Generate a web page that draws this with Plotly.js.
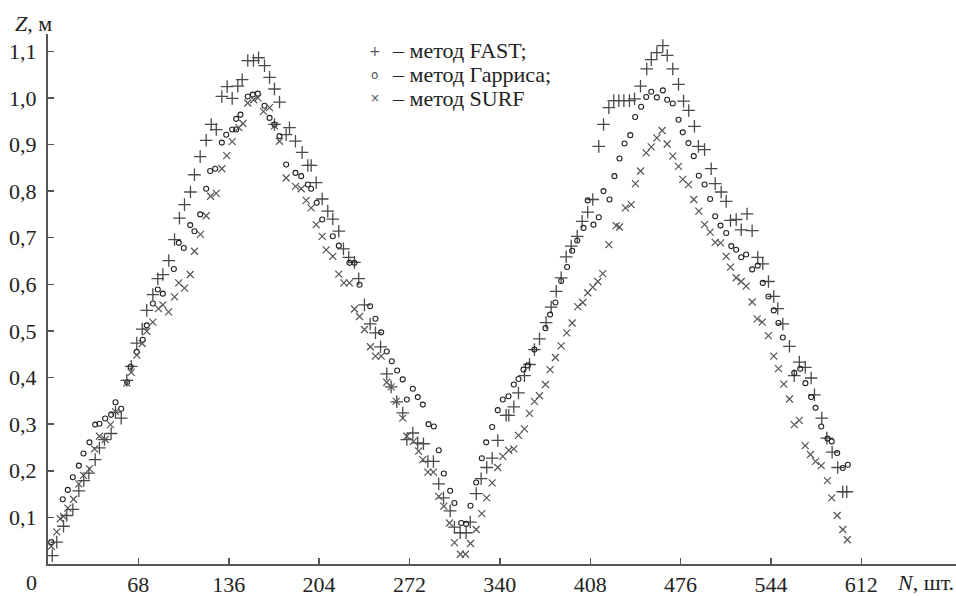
<!DOCTYPE html>
<html>
<head>
<meta charset="utf-8">
<script src="https://cdn.plot.ly/plotly-3.0.1.min.js"></script>
<style>html,body{margin:0;padding:0;background:#fff;}#chart{width:956px;height:596px;}</style>
</head>
<body>
<div id="chart"></div>
<script>
// ---- data ----
const fastN = [3.2,6.6,11.7,14.1,18.7,23.2,26.9,30.7,35.5,38.7,42.5,47.5,50.8,55.1,59.3,62.6,66.8,70.9,74.3,78.9,82.6,86.4,90.9,95.2,98.9,102.7,107.2,110.2,114.5,119.0,122.8,126.6,130.8,134.8,138.6,142.8,146.1,150.3,154.6,158.4,162.9,166.7,170.4,174.2,170.4,179.2,181.7,186.2,191.2,195.5,198.0,201.8,206.3,210.5,214.3,218.8,222.3,226.3,230.6,233.8,238.1,242.4,246.4,250.2,254.9,258.2,262.4,266.9,270.0,274.5,278.2,282.5,285.8,290.0,294.0,297.6,302.6,305.8,310.1,314.6,317.7,322.2,325.9,330.1,334.2,338.4,344.7,346.7,350.5,354.0,358.5,362.3,366.0,369.8,374.8,378.6,382.4,386.1,389.9,393.7,398.2,401.9,406.1,409.9,414.4,418.0,422.0,425.7,429.5,433.3,437.5,441.3,445.8,450.5,453.9,458.1,462.6,465.9,470.1,474.4,478.2,482.1,486.4,489.4,494.0,499.0,502.0,506.5,510.3,513.5,517.8,521.6,526.0,529.8,534.0,537.8,542.1,546.1,549.1,552.9,557.9,561.5,565.3,569.8,574.2,576.7,582.2,586.0,590.0,594.2,598.0,601.0];
const fastZ = [0.018,0.047,0.081,0.104,0.117,0.157,0.179,0.195,0.224,0.249,0.267,0.280,0.326,0.313,0.394,0.424,0.474,0.504,0.544,0.578,0.612,0.621,0.651,0.696,0.742,0.771,0.798,0.835,0.874,0.909,0.943,0.932,1.003,1.024,0.999,1.025,1.039,1.080,1.080,1.086,1.069,1.044,1.019,0.991,0.943,0.921,0.936,0.907,0.883,0.855,0.855,0.818,0.783,0.757,0.740,0.714,0.676,0.658,0.647,0.612,0.556,0.515,0.496,0.466,0.408,0.380,0.348,0.324,0.267,0.281,0.260,0.258,0.220,0.220,0.172,0.142,0.114,0.079,0.067,0.067,0.090,0.151,0.183,0.207,0.227,0.265,0.319,0.319,0.337,0.367,0.404,0.428,0.460,0.483,0.518,0.551,0.585,0.614,0.659,0.682,0.703,0.735,0.755,0.782,0.896,0.943,0.979,0.994,0.994,0.994,0.994,0.998,1.025,1.062,1.082,1.097,1.112,1.091,1.062,1.029,0.993,0.973,0.939,0.896,0.889,0.848,0.816,0.798,0.778,0.737,0.739,0.717,0.751,0.715,0.658,0.644,0.606,0.574,0.548,0.515,0.467,0.404,0.433,0.422,0.399,0.363,0.313,0.270,0.240,0.207,0.155,0.155];

const harrisN = [2.4,11.1,14.9,18.7,23.2,26.7,31.2,35.5,38.7,43.0,47.5,50.8,55.1,59.5,62.1,66.8,71.3,74.3,78.9,82.6,86.4,94.7,98.4,102.2,107.0,110.2,114.5,119.0,122.0,125.8,130.8,134.1,138.6,141.6,141.6,144.8,150.3,154.1,157.9,162.9,166.7,170.4,174.2,179.2,186.2,190.5,195.5,198.0,202.2,206.3,214.3,218.8,226.8,230.6,234.4,242.4,246.4,250.7,254.9,258.7,262.7,266.9,270.0,274.5,278.2,282.0,286.3,290.3,294.0,297.8,302.6,305.8,310.9,314.6,317.9,322.2,326.4,329.7,334.2,338.4,342.2,346.5,350.5,354.0,357.8,361.0,366.0,374.3,377.8,381.8,386.1,390.6,394.4,398.2,402.9,406.1,410.4,414.4,418.0,422.5,426.2,430.0,433.8,438.1,441.8,446.3,450.1,453.9,458.1,462.6,465.9,470.1,474.4,477.6,481.9,485.9,489.7,494.0,498.2,502.0,506.0,510.3,514.1,517.8,521.6,525.3,529.8,534.0,537.8,542.1,546.1,549.6,552.9,561.5,566.0,569.9,574.2,577.5,581.8,586.5,589.7,593.8,598.0,601.8];
const harrisZ = [0.047,0.139,0.159,0.186,0.211,0.237,0.261,0.299,0.301,0.312,0.320,0.347,0.333,0.390,0.423,0.455,0.481,0.512,0.559,0.589,0.580,0.633,0.689,0.678,0.727,0.714,0.750,0.805,0.843,0.848,0.904,0.921,0.932,0.932,0.955,0.964,1.003,1.007,1.009,0.983,0.957,0.943,0.918,0.857,0.839,0.832,0.814,0.805,0.775,0.739,0.703,0.683,0.646,0.646,0.599,0.553,0.526,0.497,0.456,0.435,0.415,0.396,0.353,0.376,0.358,0.342,0.300,0.295,0.244,0.194,0.157,0.131,0.088,0.086,0.125,0.175,0.227,0.261,0.294,0.330,0.353,0.360,0.385,0.397,0.417,0.426,0.460,0.506,0.535,0.561,0.607,0.637,0.672,0.694,0.721,0.780,0.728,0.744,0.800,0.782,0.832,0.870,0.902,0.920,0.959,0.981,1.002,1.013,1.001,1.016,0.996,0.988,0.953,0.926,0.903,0.875,0.833,0.814,0.783,0.746,0.726,0.710,0.682,0.674,0.658,0.664,0.632,0.640,0.603,0.574,0.544,0.517,0.486,0.410,0.419,0.388,0.358,0.335,0.295,0.269,0.263,0.238,0.206,0.213];

const surfN = [2.4,6.6,9.2,11.7,14.9,19.2,23.2,26.7,31.2,35.0,38.7,43.0,47.0,50.8,59.3,62.6,66.8,70.9,74.3,78.9,83.1,86.4,90.7,95.2,98.4,102.7,107.0,110.2,114.7,119.0,122.3,126.6,130.8,134.5,138.6,143.6,146.6,150.3,154.8,157.9,162.1,166.7,170.4,174.2,179.2,186.2,190.5,194.3,198.0,201.8,206.3,209.3,214.3,218.8,222.6,226.8,230.6,234.4,238.1,242.6,246.4,250.7,254.9,258.2,262.0,266.9,270.0,275.0,278.9,282.0,285.8,290.0,294.0,297.8,302.1,305.8,310.3,314.1,317.9,322.2,326.4,330.1,334.2,338.4,342.2,346.7,350.5,354.0,358.5,362.3,366.0,369.8,374.3,377.8,381.8,386.1,390.3,394.4,398.6,402.4,406.1,409.9,413.7,417.4,422.0,427.5,430.0,434.5,438.8,442.0,445.8,450.1,453.9,458.1,462.1,465.9,470.1,474.4,477.6,481.9,485.9,489.7,494.0,498.2,502.0,506.0,510.3,513.5,517.8,521.6,525.3,529.8,533.6,537.4,542.1,546.1,549.6,553.6,557.9,561.5,565.3,569.7,573.7,577.5,581.8,586.5,589.7,593.8,598.0,601.4];
const surfZ = [0.038,0.069,0.097,0.102,0.120,0.139,0.172,0.190,0.204,0.247,0.274,0.267,0.299,0.327,0.388,0.411,0.448,0.473,0.499,0.519,0.548,0.556,0.541,0.573,0.603,0.592,0.621,0.671,0.707,0.747,0.789,0.795,0.848,0.876,0.906,0.936,0.945,0.989,0.996,1.000,0.971,0.979,0.940,0.907,0.828,0.810,0.805,0.780,0.764,0.728,0.703,0.674,0.660,0.622,0.603,0.603,0.547,0.531,0.503,0.466,0.446,0.446,0.390,0.380,0.349,0.313,0.274,0.263,0.242,0.224,0.197,0.197,0.145,0.124,0.088,0.046,0.021,0.021,0.044,0.074,0.108,0.142,0.174,0.207,0.231,0.244,0.247,0.276,0.290,0.323,0.349,0.361,0.385,0.417,0.443,0.468,0.496,0.517,0.552,0.561,0.582,0.594,0.606,0.623,0.685,0.726,0.723,0.764,0.771,0.816,0.843,0.882,0.895,0.914,0.930,0.901,0.875,0.853,0.825,0.814,0.782,0.757,0.728,0.712,0.690,0.689,0.660,0.637,0.614,0.606,0.596,0.562,0.526,0.519,0.490,0.446,0.419,0.386,0.354,0.299,0.308,0.254,0.235,0.220,0.211,0.179,0.142,0.104,0.074,0.052];

const seriesNames = ['– метод FAST;', '– метод Гарриса;', '– метод SURF'];
const legendSymbols = ['+', 'o', '×'];
const xTicks = [68,136,204,272,340,408,476,544,612];
const yTicks = [0.1,0.2,0.3,0.4,0.5,0.6,0.7,0.8,0.9,1.0,1.1];

const FONT = 'Liberation Serif, Times New Roman, serif';

const traces = [
  {x: fastN, y: fastZ, name: seriesNames[0], mode: 'markers', type: 'scatter',
   marker: {symbol: 'cross-thin-open', size: 9, color: '#4a4a4a', line: {width: 1.3, color: '#4a4a4a'}}},
  {x: harrisN, y: harrisZ, name: seriesNames[1], mode: 'markers', type: 'scatter',
   marker: {symbol: 'circle-open', size: 5, color: '#222', line: {width: 1.1, color: '#222'}}},
  {x: surfN, y: surfZ, name: seriesNames[2], mode: 'markers', type: 'scatter',
   marker: {symbol: 'x-thin-open', size: 7, color: '#555', line: {width: 1.2, color: '#555'}}}
];

// legend drawn as text (tight line spacing as in the original)
const legendRowsY = [0.968, 0.923, 0.879];
const legendAnn = [];
seriesNames.forEach((nm, i) => {
  legendAnn.push({xref: 'paper', yref: 'paper', x: 0.3601, y: legendRowsY[i], text: legendSymbols[i],
    showarrow: false, xanchor: 'center', yanchor: 'middle',
    font: {family: 'DejaVu Sans, sans-serif', size: i === 0 ? 14 : 12, color: '#555'}});
  legendAnn.push({xref: 'paper', yref: 'paper', x: 0.3767, y: legendRowsY[i], text: nm,
    showarrow: false, xanchor: 'left', yanchor: 'middle',
    font: {family: FONT, size: 22, color: '#222'}});
});

const layout = {
  width: 956, height: 596,
  margin: {l: 48, r: 0, t: 34, b: 32, pad: 0},
  paper_bgcolor: '#fff', plot_bgcolor: '#fff',
  separators: ', ',
  font: {family: FONT, size: 22, color: '#222'},
  showlegend: false,
  xaxis: {range: [0, 683.2], tickvals: xTicks, ticktext: xTicks.map(String), ticks: 'inside', ticklen: 6,
          tickwidth: 1.5, tickcolor: '#555', showline: true, linecolor: '#555', linewidth: 2,
          showgrid: false, zeroline: false, automargin: false,
          tickfont: {family: FONT, size: 22, color: '#222'}},
  yaxis: {range: [0, 1.137], tickvals: yTicks, tickformat: '.1f', ticks: 'inside', ticklen: 6,
          tickwidth: 1.5, tickcolor: '#555', showline: true, linecolor: '#555', linewidth: 2,
          showgrid: false, zeroline: false, automargin: false, ticklabelstandoff: 5,
          tickfont: {family: FONT, size: 22, color: '#222'}},
  annotations: [
    {xref: 'x', yref: 'y', x: 0, y: 0, text: '0', showarrow: false, xanchor: 'center', yanchor: 'top',
     xshift: -17, yshift: -4, font: {family: FONT, size: 22, color: '#222'}},
    {xref: 'paper', yref: 'paper', x: 1.0, y: 0, text: '<i>N</i>, шт.', showarrow: false,
     xanchor: 'right', yanchor: 'top', xshift: 0, yshift: -4, font: {family: FONT, size: 22, color: '#222'}},
    {xref: 'paper', yref: 'paper', x: 0, y: 1, text: '<i>Z</i>, м', showarrow: false,
     xanchor: 'center', yanchor: 'bottom', xshift: -15, yshift: -4, font: {family: FONT, size: 22, color: '#222'}}
  ].concat(legendAnn)
};

Plotly.newPlot('chart', traces, layout, {displayModeBar: false, staticPlot: true});
</script>
</body>
</html>
